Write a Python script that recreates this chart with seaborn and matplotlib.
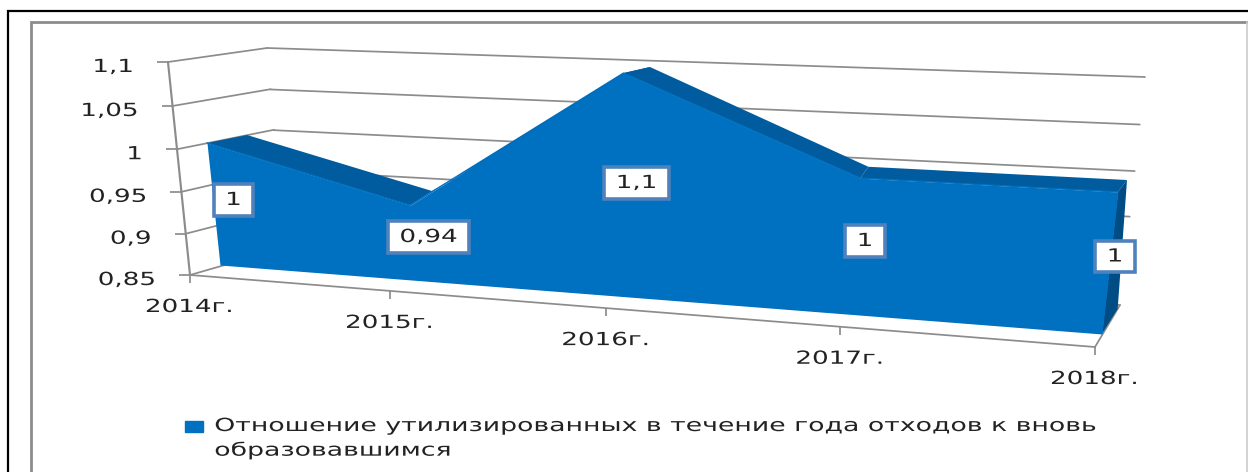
import numpy as np
import pandas as pd
import matplotlib
matplotlib.use('Agg')
import matplotlib.pyplot as plt
import matplotlib.patheffects as pe
import matplotlib.transforms as mtransforms
from matplotlib.patches import Patch, Rectangle
import seaborn as sns

# ---- data ----
years = ['2014г.', '2015г.', '2016г.', '2017г.', '2018г.']
ratio = [1.0, 0.94, 1.1, 1.0, 1.0]
ratio_labels = ['1', '0,94', '1,1', '1', '1']
y_ticks = [0.85, 0.9, 0.95, 1.0, 1.05, 1.1]
y_tick_labels = ['0,85', '0,9', '0,95', '1', '1,05', '1,1']
legend_label = 'Отношение утилизированных в течение года отходов к вновь\nобразовавшимся'

# ---- colours ----
front_color = '#0070C0'
top_color = '#005C9E'
side_color = '#004C85'
grid_color = '#8C8C8C'
box_color = '#4F81BD'
text_color = '#222222'

sns.set_theme(style='white')
plt.rcParams['font.family'] = ['DejaVu Sans']

fig = plt.figure(figsize=(12.48, 4.72), dpi=100, facecolor='white')
ax = fig.add_axes([0, 0, 1, 1])
ax.set_xlim(0, 1248)
ax.set_ylim(472, 0)
ax.axis('off')


# the Excel 3D look: each face of the box is a perspective plane
class Plane(mtransforms.Transform):
    input_dims = 2
    output_dims = 2

    def __init__(self, src, dst):
        super().__init__()
        rows, rhs = [], []
        for (x, y), (u, v) in zip(src, dst):
            rows.append([x, y, 1, 0, 0, 0, -u * x, -u * y])
            rows.append([0, 0, 0, x, y, 1, -v * x, -v * y])
            rhs += [u, v]
        self.h = np.append(np.linalg.solve(np.array(rows, float), np.array(rhs, float)), 1).reshape(3, 3)

    def transform_non_affine(self, values):
        values = np.asarray(values, float)
        p = np.c_[values, np.ones(len(values))] @ self.h.T
        return p[:, :2] / p[:, 2:]


class Stretch(pe.AbstractPathEffect):
    # the picture was scaled wider than tall, so the glyphs are too
    def __init__(self, sx, anchor='center'):
        super().__init__()
        self.sx = sx
        self.anchor = anchor

    def draw_path(self, renderer, gc, tpath, affine, rgbFace=None):
        ext = tpath.get_extents()
        x0 = {'left': 0, 'center': (ext.x0 + ext.x1) / 2, 'right': ext.x1}[self.anchor]
        stretch = mtransforms.Affine2D().translate(-x0, 0).scale(self.sx, 1).translate(x0, 0)
        renderer.draw_path(gc, tpath, stretch + affine, rgbFace)


corners = [(0, 0.85), (4, 0.85), (0, 1.1), (4, 1.1)]
wall_corners = [(0, 0.85), (1, 0.85), (0, 1.1), (1, 1.1)]
# front face of the area
area_front = Plane([(0, 0.85), (4, 0.85), (0, 1.0), (4, 1.0)], [(220, 265), (1102, 334), (207, 143), (1118, 192)])
# rear edge of the area
area_back = Plane([(0, 1.0), (4, 1.0), (2, 1.1), (1, 0.94)], [(247, 135), (1127, 180), (650, 67), (432, 191)])
axis_front = Plane(corners, [(190, 275), (1095, 347), (168, 62), (1123, 99)])
back_wall = Plane(corners, [(284, 248), (1120, 305), (267, 48), (1145, 77)])
left_wall = Plane(wall_corners, [(190, 275), (284, 248), (168, 62), (267, 48)])
right_floor = Plane(wall_corners, [(1095, 347), (1120, 305), (1123, 99), (1145, 77)])

tr = lambda plane: plane + ax.transData
line_w = 1.25

# picture frames
ax.plot([8, 8, 1248], [472, 11, 11], color='black', lw=1.6, solid_joinstyle='miter')
ax.plot([31, 31, 1248], [472, 22, 22], color=grid_color, lw=2.0, solid_joinstyle='miter')
ax.plot([1247, 1247], [22, 472], color='#CCCCCC', lw=1.2)

# walls and gridlines
for v in y_ticks:
    sns.lineplot(x=[0, 4], y=[v, v], ax=ax, color=grid_color, lw=line_w, transform=tr(back_wall), legend=False)
    sns.lineplot(x=[0, 1], y=[v, v], ax=ax, color=grid_color, lw=line_w, transform=tr(left_wall), legend=False)

sns.lineplot(x=[0, 4], y=[0.85, 0.85], ax=ax, color=grid_color, lw=line_w, transform=tr(axis_front), legend=False)
sns.lineplot(x=[0, 1], y=[0.85, 0.85], ax=ax, color=grid_color, lw=line_w, transform=tr(right_floor), legend=False)
ax.plot([0, 0], [0.85, 1.1], color=grid_color, lw=line_w + 0.3, transform=tr(left_wall))

# y ticks and labels
ax.plot([0] * len(y_ticks), y_ticks, ls='none', marker=0, ms=8, mew=line_w, color=grid_color, transform=tr(left_wall))
for v, lab in zip(y_ticks, y_tick_labels):
    ax.annotate(lab, xy=(0, v), xycoords=tr(left_wall), xytext=(-35, -5), textcoords='offset pixels',
                ha='right', va='center', fontsize=13, color=text_color,
                path_effects=[Stretch(1.45, 'right')])

# x ticks and labels
x_pos = np.arange(len(years))
ax.plot(x_pos, [0.85] * len(years), ls='none', marker=3, ms=6, mew=line_w, color=grid_color, transform=tr(axis_front))
for i, lab in enumerate(years):
    ax.annotate(lab, xy=(i, 0.85), xycoords=tr(axis_front), xytext=(-1, -32), textcoords='offset pixels',
                ha='center', va='center', fontsize=13, color=text_color,
                path_effects=[Stretch(1.45)])

# depth faces of the area
front_top = area_front.transform(np.c_[x_pos, ratio])
back_top = area_back.transform(np.c_[x_pos, ratio])
for i in range(len(years) - 1):
    quad = np.vstack([front_top[i], front_top[i + 1], back_top[i + 1], back_top[i]])
    ax.fill(quad[:, 0], quad[:, 1], color=top_color, lw=0, zorder=3)
side = np.vstack([area_front.transform([(4, 0.85), (4, ratio[-1])]), back_top[-1:], right_floor.transform([(0.9, 0.85)])])
ax.fill(side[:, 0], side[:, 1], color=side_color, lw=0, zorder=3)

# front face of the area
df = pd.DataFrame({'year': x_pos, 'ratio': ratio})
ax.fill_between(df['year'], 0.85, df['ratio'], color=front_color, lw=0, zorder=4, transform=tr(area_front))
sns.lineplot(data=df, x='year', y='ratio', ax=ax, color=front_color, lw=1.0, zorder=4,
             transform=tr(area_front), legend=False)

# value labels
label_boxes = [(212, 182, 43, 36), (386, 219, 85, 36), (602, 165, 69, 36), (843, 223, 44, 36), (1093, 239, 44, 35)]
for lab, (bx, by, bw, bh) in zip(ratio_labels, label_boxes):
    ax.add_patch(Rectangle((bx + 2, by + 2), bw - 4, bh - 4, fc='white', ec=box_color, lw=2.6, zorder=5))
    ax.text(bx + bw / 2, by + bh / 2, lab, ha='center', va='center', fontsize=13, color=text_color, zorder=6,
            path_effects=[Stretch(1.45)])

# legend
leg = ax.legend(handles=[Patch(color=front_color, label=legend_label)], loc='upper left',
                bbox_to_anchor=(185, 417), bbox_transform=ax.transData, frameon=False, fontsize=13,
                handlelength=1.0, handleheight=0.62, handletextpad=0.62, borderpad=0, borderaxespad=0)
for t in leg.get_texts():
    t.set_color(text_color)
    t.set_linespacing(1.45)
    t.set_path_effects([Stretch(1.48, 'left')])
# square sits beside the first line, not between the two
box = leg.legend_handles[0]
box.set_y(box.get_y() + 9)

fig.savefig('out.png', dpi=100, facecolor='white')
